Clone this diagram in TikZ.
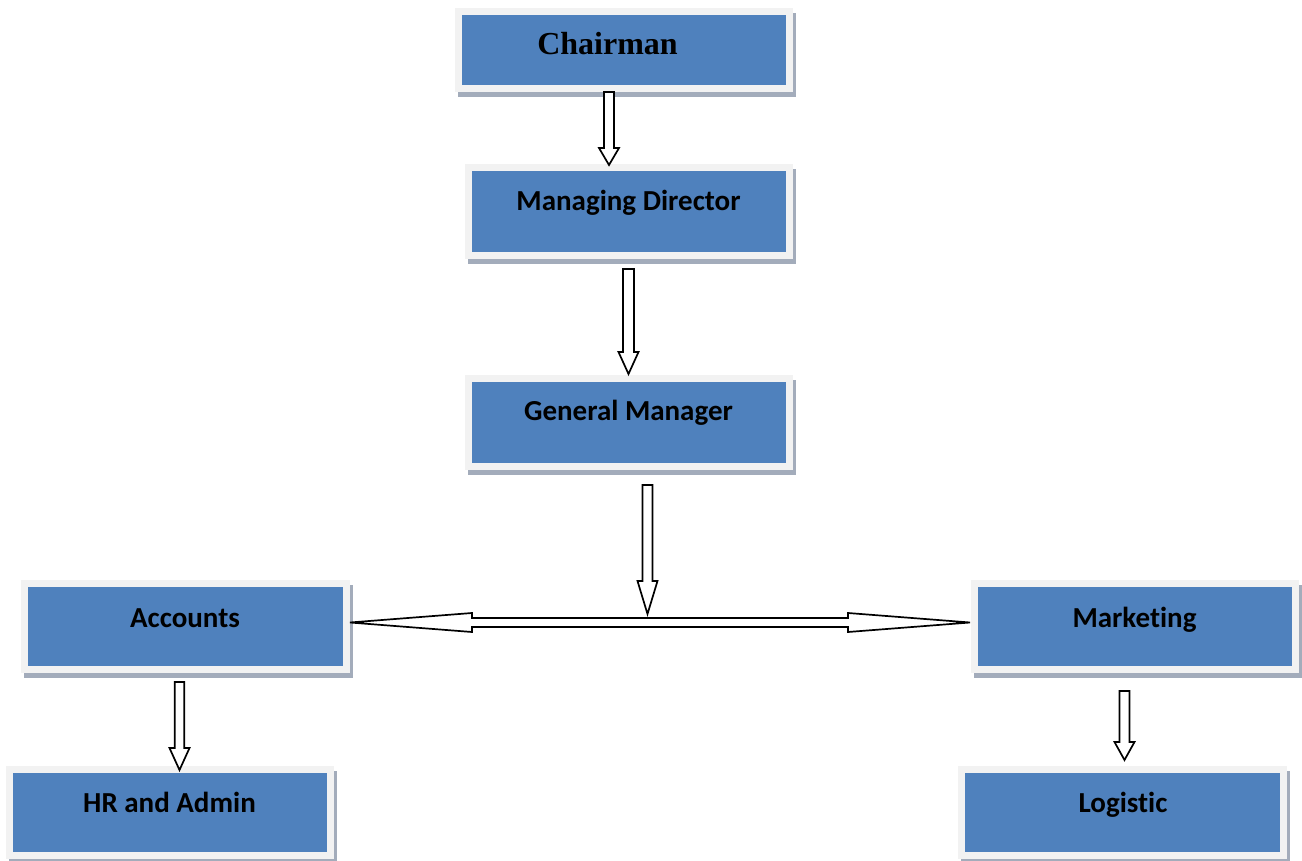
\documentclass[tikz,border=0pt]{standalone}
\usepackage{fontspec}
\newfontfamily\carl{Carlito}[Ligatures=NoCommon]
\newfontfamily\lserif{Liberation Serif}
\usetikzlibrary{calc}
\definecolor{boxblue}{HTML}{4F81BD}
\definecolor{framegray}{HTML}{F2F2F2}
\definecolor{shadowcol}{HTML}{A3ACBB}
\tikzset{
  orgbox/.style={draw=framegray, line width=7pt, fill=boxblue, inner sep=0pt,
    preaction={draw=shadowcol, fill=shadowcol, transform canvas={shift={(3pt,-5pt)}}}},
  lbl/.style={anchor=base, inner sep=0pt, font=\carl\bfseries\fontsize{29}{31}\selectfont, text=black},
  lblserif/.style={anchor=base, inner sep=0pt, font=\lserif\bfseries\fontsize{32}{34}\selectfont, text=black},
  blk/.style={draw=black, fill=white, line width=1.7pt, line join=miter}
}
% vertical hollow block arrow: #1 from anchor, #2 to anchor, #3 x, #4 start offset below #1,
% #5 tip offset below #2, #6 head length, #7 shaft half width, #8 head half width
\newcommand\vblk[8]{%
  \draw[blk] let \p1=(#1), \p2=(#2) in
    ({(#3-#7)*1pt},{\y1-#4pt}) -- ({(#3-#7)*1pt},{\y2-#5pt+#6pt}) --
    ({(#3-#8)*1pt},{\y2-#5pt+#6pt}) -- ({#3pt},{\y2-#5pt}) --
    ({(#3+#8)*1pt},{\y2-#5pt+#6pt}) -- ({(#3+#7)*1pt},{\y2-#5pt+#6pt}) --
    ({(#3+#7)*1pt},{\y1-#4pt}) -- cycle;}
\begin{document}
\begin{tikzpicture}[x=1pt,y=-1pt]
\useasboundingbox (0,0) rectangle (1302,861);
% boxes
\node[orgbox, minimum width=331pt, minimum height=77pt] (ch) at (624,50) {};
\node[orgbox, minimum width=321pt, minimum height=88pt] (md) at (629,211.5) {};
\node[orgbox, minimum width=321pt, minimum height=88pt] (gm) at (629,422.5) {};
\node[orgbox, minimum width=322pt, minimum height=86pt] (acc) at (185.5,626.5) {};
\node[orgbox, minimum width=321pt, minimum height=86pt] (mk) at (1135,626.5) {};
\node[orgbox, minimum width=321pt, minimum height=86pt] (hr) at (170,812.5) {};
\node[orgbox, minimum width=322pt, minimum height=86pt] (lg) at (1122.5,812.5) {};
% labels
\node[lblserif] (tch) at (607.5,55) {Chairman};
\node[lbl] (tmd) at (628.5,211) {Managing Director};
\node[lbl] (tgm) at (628.5,420) {General Manager};
\node[lbl] (tacc) at (185,627) {Accounts};
\node[lbl] (tmk) at (1134.5,627) {Marketing};
\node[lbl] (thr) at (169.5,812) {HR and Admin};
\node[lbl] (tlg) at (1123,812) {Logistic};
% hub point where the GM arrow meets the horizontal arrow
\coordinate (hub) at (647.5,614);
% vertical arrows
\vblk{ch.south}{md.north}{609}{0}{1}{17}{5}{10}
\vblk{md.south}{gm.north}{628.5}{10}{-1}{22}{5.5}{10}
\vblk{gm.south}{hub}{647.5}{15}{0}{33}{5}{10}
\vblk{acc.south}{hr.north}{179.5}{9}{4}{22}{4.75}{10}
\vblk{mk.south}{lg.north}{1124.5}{18}{-6}{18}{5}{10}
% horizontal double arrow between Accounts and Marketing
\draw[blk] let \p1=(acc.east), \p2=(mk.west) in
  (\x1,{-622.5pt}) -- ({\x1+122pt},{-613pt}) -- ({\x1+122pt},{-618pt}) --
  ({\x2-123pt},{-618pt}) -- ({\x2-123pt},{-613pt}) -- ({\x2-1pt},{-622.5pt}) --
  ({\x2-123pt},{-632pt}) -- ({\x2-123pt},{-627pt}) --
  ({\x1+122pt},{-627pt}) -- ({\x1+122pt},{-632pt}) -- cycle;
\end{tikzpicture}
\end{document}
